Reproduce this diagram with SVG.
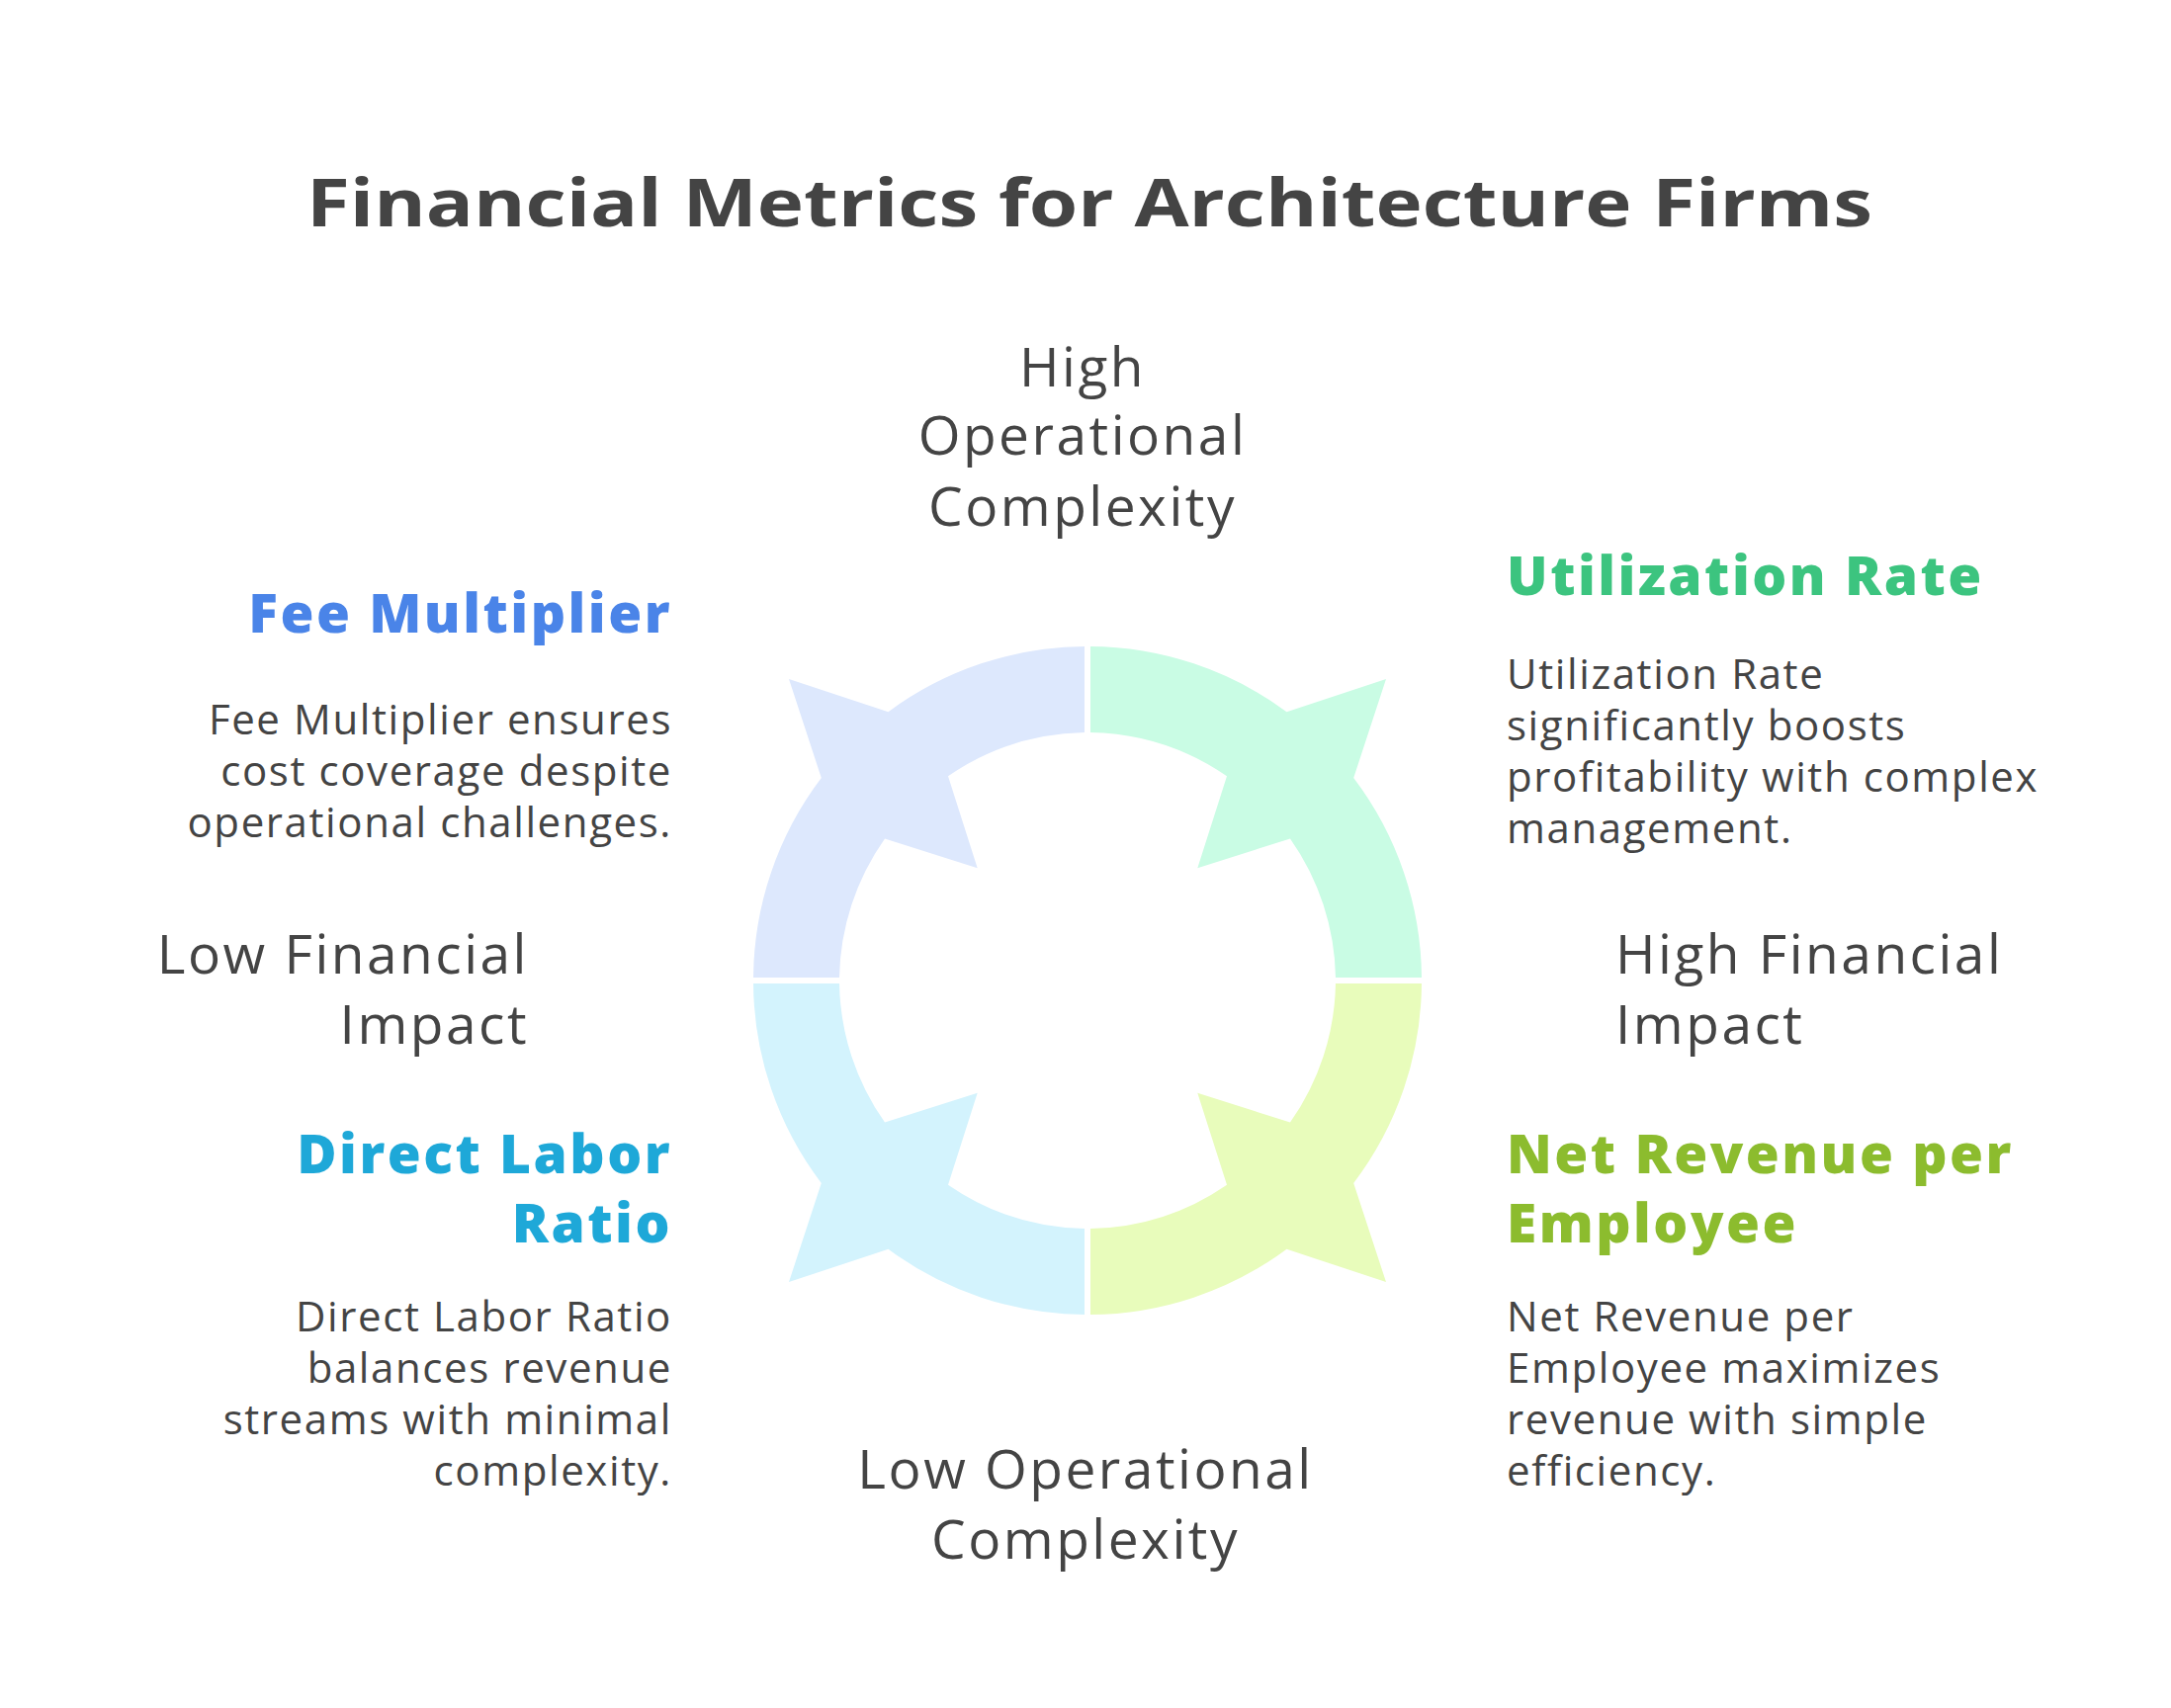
<svg xmlns="http://www.w3.org/2000/svg" width="2196" height="1728" viewBox="0 0 2196 1728">
<style>
text{font-family:"Open Sans","Liberation Sans",sans-serif;fill:#444}
.t{font-size:66px;font-weight:700}
.ax{font-size:55px;letter-spacing:2.5px}
.h{font-size:55px;font-weight:800;letter-spacing:2.5px}
.d{font-size:42px;letter-spacing:1.6px}
.r{text-anchor:end}.m{text-anchor:middle}
</style>
<defs>
<path id="seg" d="M -3,-338 A 338 338 0 0 0 -201.5,-271.8 L -302,-305 L -269.2,-205 A 338 338 0 0 0 -338,-3 L -251,-3 A 251 251 0 0 1 -205,-143.6 L -111.3,-113.8 L -141,-206.7 A 251 251 0 0 1 -3,-251 Z"/>
</defs>
<rect width="2196" height="1728" fill="#fff"/>
<text class="t m" x="1102" y="229" textLength="1584" lengthAdjust="spacingAndGlyphs">Financial Metrics for Architecture Firms</text>
<g id="ring" transform="translate(1100,992)">
<g id="fee-seg"><use href="#seg" fill="#dde8fd"/></g>
<g id="util-seg"><use href="#seg" fill="#c9fce4" transform="scale(-1,1)"/></g>
<g id="dlr-seg"><use href="#seg" fill="#d3f3fd" transform="scale(1,-1)"/></g>
<g id="nre-seg"><use href="#seg" fill="#e8fcbb" transform="scale(-1,-1)"/></g>
</g>
<g id="axes">
<text class="ax m" x="1095" y="391">High</text>
<text class="ax m" x="1095" y="460">Operational</text>
<text class="ax m" x="1095" y="532">Complexity</text>
<text class="ax r" x="535" y="985">Low Financial</text>
<text class="ax r" x="535" y="1056">Impact</text>
<text class="ax" x="1634" y="985">High Financial</text>
<text class="ax" x="1634" y="1056">Impact</text>
<text class="ax m" x="1098" y="1506">Low Operational</text>
<text class="ax m" x="1098" y="1577">Complexity</text>
</g>
<g id="fee">
<text class="h r" x="680" y="640" style="fill:#4a84e8">Fee Multiplier</text>
<text class="d r" x="680" y="743">Fee Multiplier ensures</text>
<text class="d r" x="680" y="795">cost coverage despite</text>
<text class="d r" x="680" y="847">operational challenges.</text>
</g>
<g id="util">
<text class="h" x="1524" y="602" style="fill:#3cc47f">Utilization Rate</text>
<text class="d" x="1524" y="697">Utilization Rate</text>
<text class="d" x="1524" y="749">significantly boosts</text>
<text class="d" x="1524" y="801">profitability with complex</text>
<text class="d" x="1524" y="853">management.</text>
</g>
<g id="dlr">
<text class="h r" x="680" y="1187" style="fill:#1ea8d8">Direct Labor</text>
<text class="h r" x="680" y="1257" style="fill:#1ea8d8">Ratio</text>
<text class="d r" x="680" y="1347">Direct Labor Ratio</text>
<text class="d r" x="680" y="1399">balances revenue</text>
<text class="d r" x="680" y="1451">streams with minimal</text>
<text class="d r" x="680" y="1503">complexity.</text>
</g>
<g id="nre">
<text class="h" x="1524" y="1187" style="fill:#8cbc2e">Net Revenue per</text>
<text class="h" x="1524" y="1257" style="fill:#8cbc2e">Employee</text>
<text class="d" x="1524" y="1347">Net Revenue per</text>
<text class="d" x="1524" y="1399">Employee maximizes</text>
<text class="d" x="1524" y="1451">revenue with simple</text>
<text class="d" x="1524" y="1503">efficiency.</text>
</g>
</svg>
